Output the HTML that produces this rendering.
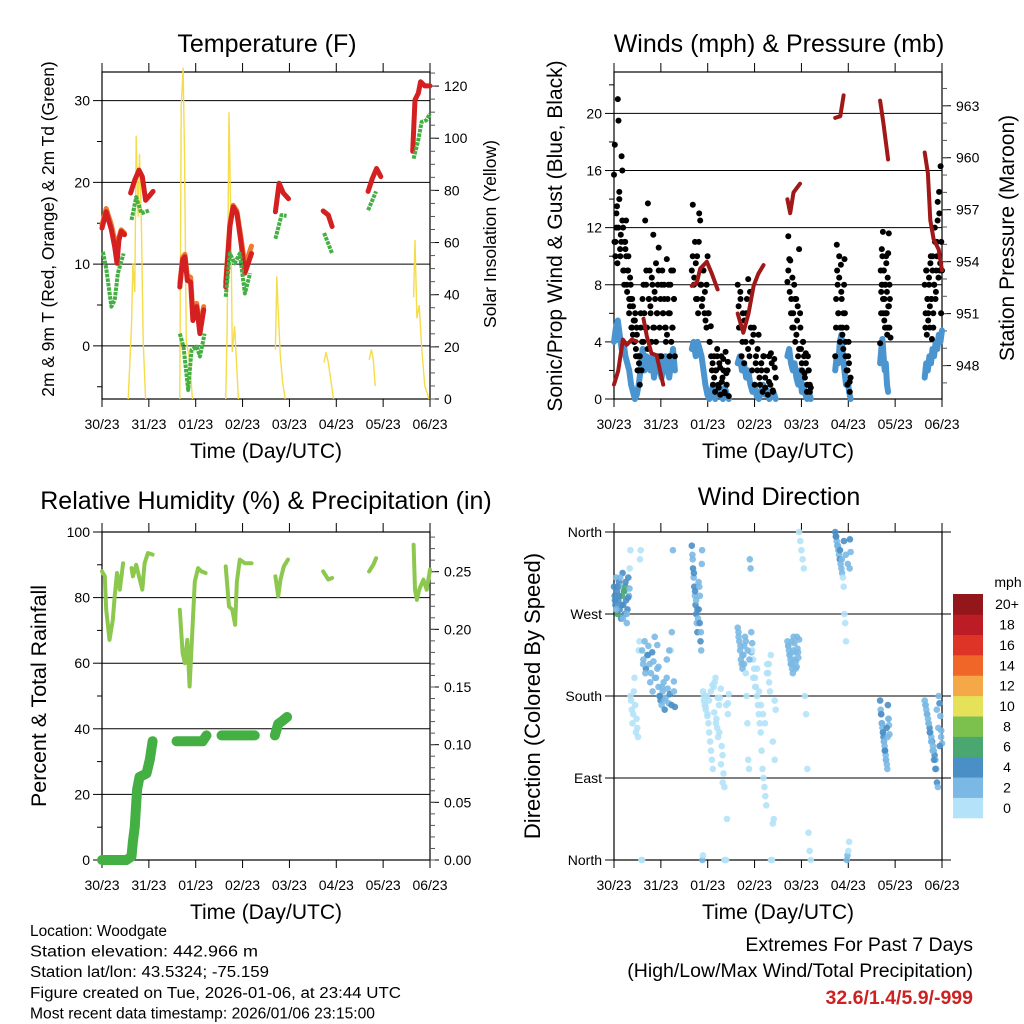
<!DOCTYPE html>
<html><head><meta charset="utf-8"><style>
html,body{margin:0;padding:0;background:#fff;}
svg{display:block;font-family:"Liberation Sans",sans-serif;}
</style></head><body>
<svg id="fig" width="1024" height="1024" viewBox="0 0 1024 1024"></svg>
<script>
// ---------- DATA ----------
const dayLabels = ["30/23","31/23","01/23","02/23","03/23","04/23","05/23","06/23"];
// Temperature panel
const tempRedSegs = [
 [[0,14.4],[0.09,16.4],[0.2,14.2],[0.27,12.1],[0.32,10.1],[0.36,12.9],[0.41,14],[0.48,13.6]],
 [[0.61,18.7],[0.70,20.3],[0.79,21.5],[0.86,20.7],[0.93,17.8],[1.02,18.4],[1.09,18.9]],
 [[1.66,7.2],[1.72,10.5],[1.77,10.9],[1.82,8],[1.89,7.8],[1.94,3.1],[2.02,4.8],[2.09,1.5],[2.17,4.4]],
 [[2.64,7.2],[2.73,14.6],[2.80,17],[2.88,16.2],[2.96,12.9],[3.05,8.9],[3.12,10.1],[3.19,11.3]],
 [[3.70,16.4],[3.78,19.9],[3.87,18.7],[3.98,18]],
 [[4.72,16.5],[4.83,16],[4.91,14.6]],
 [[5.68,18.9],[5.77,20.5],[5.86,21.7],[5.95,20.7]],
 [[6.63,23.8],[6.68,30.1],[6.75,30.9],[6.80,32.3],[6.89,31.8],[7.0,31.8]]
];
const tempOrangeSegs = [
 [[0,14.8],[0.09,16.8],[0.2,14.8],[0.27,12.9],[0.32,10.6],[0.36,13.3],[0.41,14.2],[0.48,13.8]],
 [[1.66,7.6],[1.72,10.8],[1.77,11.2],[1.82,8.6],[1.89,8.4],[1.94,4.0],[2.02,5.2],[2.09,2.2],[2.17,4.8]],
 [[2.64,7.8],[2.73,15],[2.80,17.2],[2.88,16.5],[2.96,13.5],[3.05,9.8],[3.12,11.0],[3.19,12.2]]
];
const dewSegs = [
 [[0.02,11.5],[0.09,9.5],[0.2,4.8],[0.27,5.6],[0.34,8.9],[0.46,11.3]],
 [[0.63,15.4],[0.73,18.2],[0.84,16.2],[1.02,16.6]],
 [[1.66,1.5],[1.74,-0.1],[1.84,-5.4],[1.91,-0.5],[2.02,-0.1],[2.09,-1.3],[2.19,1.5]],
 [[2.64,6],[2.73,11.3],[2.83,10.1],[2.94,11.3],[3.05,6.4],[3.16,8.9]],
 [[3.70,13.1],[3.83,16],[3.94,15.9]],
 [[4.74,13.8],[4.83,12.5],[4.91,11.3]],
 [[5.68,16.6],[5.85,18.9]],
 [[6.65,22.9],[6.75,25.2],[6.82,27.4],[6.92,27.6],[7.0,28.4]]
];
const solarSegs = [
 [[0.56,0],[0.63,28],[0.66,52],[0.70,41],[0.73,101],[0.77,70],[0.80,94],[0.84,67],[0.88,22],[0.93,0]],
 [[1.66,0],[1.69,112],[1.73,127],[1.76,94],[1.80,22],[1.87,15],[1.93,0]],
 [[2.64,0],[2.67,26],[2.71,110],[2.75,67],[2.78,18],[2.83,28],[2.91,0]],
 [[3.70,19],[3.73,47],[3.76,34],[3.80,18],[3.85,7],[3.91,0]],
 [[4.74,14],[4.78,18],[4.83,14],[4.94,0]],
 [[5.70,15],[5.75,19],[5.79,15],[5.83,5]],
 [[6.65,39],[6.68,61],[6.72,31],[6.77,36],[6.82,20],[6.89,5],[6.98,0]]
];
// Winds panel
const pressSegs = [
 [[0,946.9],[0.09,947.7],[0.19,949.5],[0.27,949.2],[0.38,949.5],[0.48,949.4]],
 [[0.63,950.7],[0.70,949.7],[0.80,948.7],[0.91,948.6],[1.05,946.9]],
 [[1.66,952.6],[1.77,952.8],[1.84,953.6],[1.98,954.0],[2.09,953.3],[2.21,952.4]],
 [[2.64,951.0],[2.76,949.9],[2.87,951.0],[2.98,952.6],[3.08,953.3],[3.19,953.8]],
 [[3.70,957.6],[3.76,956.8],[3.83,958],[3.97,958.5]],
 [[4.72,962.3],[4.83,962.4],[4.90,963.6]],
 [[5.68,963.3],[5.75,962],[5.85,959.9]],
 [[6.63,960.3],[6.70,959.1],[6.75,956.4],[6.82,955.3],[6.93,954.7],[7.0,953.5]]
];
const gustStart = [0, 0.55, 1.66, 2.64, 3.70, 4.72, 5.68, 6.63, 0.01, 0.57, 1.68, 2.66, 3.72, 4.74, 5.70, 6.65];
const gustEnd   = [0.55, 1.3, 2.45, 3.45, 4.20, 5.05, 5.90, 7.0, 0.53, 1.28, 2.43, 3.43, 4.18, 5.03, 5.88, 6.98];
const gustVals = [
 [15.7,17.8,11,12,13.5,21,19.5,14,10.5,11.5,17,16,12,9,11,10.5,12.5,8,9,10,7,6.5,8,5,7,4.5,5.5,4,6,3,5,2,3,2.5,1],
 [3,5,2,7,4,6,12.5,8,5,13.7,7,9,6,4,8,11.5,5,7,9.5,6,8,10.6,5,7,3,9,6,8,5,4,9.8,7,6,3,8,4,5,9,7,3],
 [9,13.6,8,11,7,10,6,13,12.5,8,7,9,6,5.5,8,10,6,4,5.1,2,1,3,0.5,2,3.5,1,2.5,0.3,3,1.5,2,0.5,3.3,1,2,0.2],
 [8,5,7.5,3,6,2.5,4,7,8.4,3,5,2,4.5,1,3,2,4.5,1,2.5,0.5,3,1.5,2,0.3,3,1,2.5,0.5,2.8,1.5],
 [8.2,11.4,9.8,9.7,7,5,6,8,4,7,5.5,3,10.5,6,3.5,2,4,3,1.5,2.5,0.5,3,2,1,0.8],
 [3,5,10.8,8,6,10,4,9.4,7,5,3.5,8,6,4,2,1,3,2.5,0.5,1.5],
 [3.9,9,7.5,10.5,8,11.7,6,9,7,5,8,10,6,4.5,8.5,6.5,11.6,5,7,4.3],
 [8,5,9,4.5,7,6,8.5,5,9.5,7,4.2,10,6,8,12,7,9,11,13.8,10,14.5,9,16.3,11,9],
 [11,10,13,9.5,12,14.5,10,11,12.5,9,8,11,10,7.5,9,6,8.5,7,5,6.5,4,5.5,3.5,4.5,3,2],
 [6,4,8,5,9,3.5,7,6.5,8.5,5,7.5,4,6,9,3,8,6,7,5,4.5,8,6,9,5,7],
 [10,8.5,9.5,7,11,8,6.5,9,7.5,5,6,4,3,2.5,1.5,2,3,0.8,2.2,1.2,2.8,0.4,1.8,2.6],
 [6.5,7,4,5.5,6,3.5,7.5,4,5,2.5,3.5,1.5,2,3,0.8,2,1.2,3.2,0.6,2.2],
 [9,7.5,6,8.5,5,7,4.5,6.5,3.5,5,2.5,4,1.8,3.2,1,2,0.5],
 [7,9,6,8.5,5,7.5,4.5,6,9.8,3,5,2,4,1.2],
 [6,8,10,7,9,5.5,8,6,9.5,7.5,5,10.2,6.5,8],
 [6,9,7,5.5,8,6.5,10,7,9,5,8,11,7.5,10,12.5,8.5,13,9.5,6]
];
const windStart = [0, 1.66, 2.64, 3.70, 4.72, 5.68, 6.63];
const windEnd   = [1.3, 2.45, 3.45, 4.20, 5.05, 5.85, 7.0];
const windVals = [
 [4,5,5.5,4.5,3.5,4,3,2.5,2,1,0.5,0,0.3,1,2,3.5,2,3,2.5,2,3,1.5,2.5,3,2,1.5,2.5,3,2,1.5,2.5,3.5,2],
 [3.5,4,3,4,3.5,3,2,1,0.3,0,0.5,1,0,0.5,1,0.2,0,0.8,0.3,0],
 [2.5,3,2,2.5,1.5,2,1,0.5,1,0.2,0,0.5,1,0.3,0.6,0,0.2,0.5,0],
 [3,3.5,2.5,2,2.5,1.5,1,2,0.5,1,0.3,0,0.5,0],
 [2,3,2.5,4,4.5,3,2,1,1.5,0.5,0],
 [2.5,3.5,4.2,3,2,2.5,1,0.5],
 [1.5,2.5,2,3,2.5,3.5,3,4,3.5,4.5,4,4.8]
];
// RH / rain panel
const rhSegs = [
 [[0,88],[0.06,86.5],[0.09,76.3],[0.16,67.1],[0.23,73.2],[0.27,80.4],[0.32,87.5],[0.38,82.4],[0.45,90.5]],
 [[0.63,89],[0.66,86.5],[0.73,90],[0.79,86.5],[0.86,82.4],[0.91,90.5],[0.98,93.6],[1.08,93.1]],
 [[1.66,76.3],[1.72,63.1],[1.77,60],[1.82,67.1],[1.87,52.9],[1.93,70.2],[1.98,84.9],[2.05,89],[2.12,88],[2.21,87.5]],
 [[2.64,89.5],[2.71,77.3],[2.78,76.3],[2.84,71.7],[2.88,84.9],[2.94,91.6],[3.05,90.5],[3.19,90.5]],
 [[3.70,86.5],[3.76,80.4],[3.81,85.5],[3.88,89.5],[3.97,91.6]],
 [[4.72,88],[4.83,85.5],[4.91,86]],
 [[5.70,88],[5.79,90],[5.85,92]],
 [[6.65,96.1],[6.68,82.4],[6.72,79.3],[6.77,82.4],[6.86,85.5],[6.93,82.4],[7.0,88.5]]
];
const rainSegs = [
 [[0,0],[0.52,0],[0.63,0.003],[0.66,0.016],[0.70,0.029],[0.73,0.049],[0.75,0.061],[0.80,0.072],[0.95,0.075],[1.02,0.087],[1.08,0.103]],
 [[1.59,0.103],[2.15,0.103],[2.23,0.108]],
 [[2.55,0.108],[3.26,0.108]],
 [[3.69,0.108],[3.76,0.118],[3.86,0.121],[3.95,0.124]]
];
// Wind direction panel (degrees, speed in mph)
const dirStart = [0, 0.35, 0.6, 0.95, 1.66, 1.9, 2.64, 2.95, 3.70, 3.95, 4.72, 5.68, 6.63,
                  0.02, 0.62, 1.68, 1.92, 2.66, 2.97, 3.72, 4.74, 5.70, 6.65];
const dirEnd   = [0.35, 0.6, 0.95, 1.3, 1.9, 2.45, 2.95, 3.45, 3.95, 4.2, 5.05, 5.88, 7.0,
                  0.33, 1.28, 1.88, 2.43, 2.93, 3.43, 3.93, 5.03, 5.86, 6.98];
const dirDeg = [
 [300,290,280,310,295,270,285,305,275,300,265,290,315,280,295,270,300,285,260,275,310,290,320,340],
 [180,175,165,150,160,185,200,170,140,155,145,135,230,240,330,340,0,0],
 [230,220,240,210,225,235,215,205,228,218,245,200,236,212],
 [190,180,175,170,185,195,165,178,200,188,172,182,230,250,340,196,168],
 [345,335,320,310,300,290,280,270,260,250,265,275,300,290,240,230,325,0,5],
 [185,175,170,165,180,160,150,140,130,120,110,100,190,195,200,155,145,135,170,178,188,125,115,95,0,0,0,45,172,182],
 [255,250,240,230,220,215,210,225,235,245,205,180,150,110,100,330,320,228,238],
 [230,220,210,200,190,180,170,160,150,140,120,100,90,80,70,60,215,205,195,185,0,0,40,45,175,165],
 [240,235,230,225,220,215,210,205,245,238,228,218,212,232,222,242],
 [360,350,340,330,320,180,160,100,30,10,0],
 [360,355,350,345,340,335,330,325,320,315,310,300,270,260,240,0,5,10,20,352,338],
 [175,165,160,150,145,140,135,130,125,120,115,110,105,100,170,155,148,138],
 [175,170,165,160,155,150,145,140,135,130,125,120,115,110,100,85,80,180,172,158,142,128],
 [285,275,300,290,310,280,265,295,305,270,288,298],
 [215,205,225,195,185,200,210,180,190,175,220,230,170,185],
 [330,315,295,285,275,305,260,250,340],
 [180,168,158,175,185,192,162,150,178,140,105,85,80,170,160],
 [245,235,225,215,240,230,220,250],
 [200,190,210,185,170,160,150,205,215,225,130,110],
 [235,225,215,240,230,220,210,245,228],
 [355,345,340,330,350,335,325,320],
 [160,150,140,130,120,110,145,135,155],
 [170,160,150,140,130,120,110,100,165,145,125,135]
];
const dirSpd = [
 [4,4,4,3,4,6,4,4,4,3,4,6,4,4,3,4,7,4,3,4,4,3,1,1],
 [0,1,0,0,1,0,0,1,0,0,1,0,1,0,0,0,0,0],
 [2,3,2,4,2,3,2,2,4,3,2,2,3,2],
 [3,2,4,3,2,3,4,2,3,3,2,4,1,2,2,3,4],
 [4,3,4,3,4,3,4,4,3,4,3,4,3,3,4,3,3,2,1],
 [0,0,0,1,0,0,0,0,1,0,0,0,0,0,0,1,0,0,0,0,1,0,0,0,0,0,0,0,0,0],
 [2,2,3,2,2,2,3,2,2,2,1,1,0,0,0,2,2,2,2],
 [0,1,0,0,0,1,0,0,0,0,0,0,0,0,0,0,1,0,0,0,0,0,0,0,0,0],
 [2,2,2,2,2,2,2,2,2,2,2,2,3,2,2,2],
 [0,0,0,0,0,0,0,0,0,0,0],
 [4,4,3,4,3,2,4,2,3,2,1,1,1,1,0,2,3,1,0,4,2],
 [4,3,2,4,3,2,4,3,2,4,3,2,3,2,4,3,2,3],
 [2,2,3,4,2,3,4,2,3,4,3,2,4,3,2,4,2,2,4,3,2,3],
 [4,3,4,4,3,4,3,6,4,3,4,3],
 [3,2,4,3,3,2,3,4,2,3,2,3,4,2],
 [3,4,4,3,4,3,4,3,3],
 [0,0,1,0,0,0,0,1,0,0,0,0,0,0,0],
 [3,2,2,3,2,2,3,2],
 [0,0,1,0,0,0,0,0,1,0,0,0],
 [2,2,2,3,2,2,2,2,2],
 [4,3,4,3,4,2,3,2],
 [4,3,4,3,4,3,4,3,2],
 [2,3,2,4,3,2,4,4,2,3,4,3]
];
const cbLabels = ["0","2","4","6","8","10","12","14","16","18","20+"];
const cbColors = ["#b4e2f8","#7bb9e4","#4a8fc6","#4aa76f","#7cc14d","#e5e25a","#f5a848","#f06629","#de3428","#bb1c25","#92161a"];

// ---------- HELPERS ----------
const NS = "http://www.w3.org/2000/svg";
const svg = document.getElementById("fig");
function mk(tag, attrs, parent) {
  const e = document.createElementNS(NS, tag);
  for (const k in attrs) e.setAttribute(k, attrs[k]);
  (parent || svg).appendChild(e);
  return e;
}
function txt(s, x, y, size, anchor, parent, extra) {
  const a = Object.assign({x:x, y:y, "font-size":size, "text-anchor":anchor||"middle", fill:"#000"}, extra||{});
  const t = mk("text", a, parent);
  t.textContent = s;
  return t;
}
function panel(x0, x1, y0, y1) {
  return {x0, x1, y0, y1, X: t => x0 + t / 7 * (x1 - x0)};
}
function yScale(p, lo, hi) { return v => p.y1 - (v - lo) / (hi - lo) * (p.y1 - p.y0); }
function pathOf(seg, X, Y) { return seg.map((d, i) => (i ? "L" : "M") + X(d[0]).toFixed(1) + "," + Y(d[1]).toFixed(1)).join(""); }

function frame(p, name) {
  const g = mk("g", {});
  
  
  mk("rect", {x:p.x0, y:p.y0, width:p.x1-p.x0, height:p.y1-p.y0, fill:"none", stroke:"#000", "stroke-width":1.2}, g);
  for (let d = 0; d <= 7; d++) {
    const x = p.X(d);
    mk("line", {x1:x, x2:x, y1:p.y0-9, y2:p.y0, stroke:"#000"}, g);
    mk("line", {x1:x, x2:x, y1:p.y1, y2:p.y1+8, stroke:"#000"}, g);
    const t = txt(dayLabels[d], x, p.y1 + 30, 14, "middle", g);
    
    
  }
  const xt = txt("Time (Day/UTC)", (p.x0+p.x1)/2, p.y1 + 59, 21, "middle", g);
  
  
  return g;
}
function leftAxis(p, Y, majors, minors, labels, g, grid) {
  majors.forEach((v, i) => {
    const y = Y(v);
    mk("line", {x1:p.x0-9, x2:p.x0, y1:y, y2:y, stroke:"#000"}, g);
    if (grid) mk("line", {x1:p.x0, x2:p.x1, y1:y, y2:y, stroke:"#000", "stroke-width":1}, g);
    const t = txt(labels[i], p.x0 - 12, y + 5, 14, "end", g);
    
    
  });
  minors.forEach(v => { const y = Y(v); mk("line", {x1:p.x0-5, x2:p.x0, y1:y, y2:y, stroke:"#000"}, g); });
}
function rightAxis(p, Y, majors, minors, labels, g) {
  majors.forEach((v, i) => {
    const y = Y(v);
    mk("line", {x1:p.x1, x2:p.x1+9, y1:y, y2:y, stroke:"#000"}, g);
    const t = txt(labels[i], p.x1 + 14, y + 5, 14, "start", g);
    
    
  });
  minors.forEach(v => { const y = Y(v); mk("line", {x1:p.x1, x2:p.x1+5, y1:y, y2:y, stroke:"#555"}, g); });
}
function vtitle(s, x, y, size, g, name) {
  const t = txt(s, x, y, size, "middle", g, {transform:"rotate(-90 " + x + " " + y + ")"});
  
  
}
function range(a, b, s) { const r = []; for (let v = a; v <= b + 1e-9; v += s) r.push(+v.toFixed(4)); return r; }

// ---------- PANEL 1: Temperature ----------
(function(){
  const p = panel(102, 430, 72, 399);
  const Y = yScale(p, -6.5, 33.5);
  const Ys = yScale(p, 0, 125.4);
  const g = frame(p, "temperature");
  leftAxis(p, Y, [0,10,20,30], [-5,5,15,25], ["0","10","20","30"], g, true);
  rightAxis(p, Ys, [0,20,40,60,80,100,120], range(0,125,5), ["0","20","40","60","80","100","120"], g);
  const tt = txt("Temperature (F)", 267, 52, 25, "middle");
  
  
  vtitle("2m & 9m T (Red, Orange) & 2m Td (Green)", 54, 229, 17.4, g, "temperature-y-axis-title");
  vtitle("Solar Insolation (Yellow)", 496, 234, 17.6, g, "solar-y-axis-title");
  solarSegs.forEach(s => {
    const e = mk("path", {d:pathOf(s, p.X, Ys), fill:"none", stroke:"#f5dc4a", "stroke-width":1.4});
    
    
  });
  tempOrangeSegs.forEach(s => {
    const e = mk("path", {d:pathOf(s, p.X, Y), fill:"none", stroke:"#f07a30", "stroke-width":5, "stroke-linejoin":"round", "stroke-linecap":"round"});
    
    
  });
  tempRedSegs.forEach(s => {
    const e = mk("path", {d:pathOf(s, p.X, Y), fill:"none", stroke:"#d42020", "stroke-width":5, "stroke-linejoin":"round", "stroke-linecap":"round"});
    
    
  });
  dewSegs.forEach(s => {
    const e = mk("path", {d:pathOf(s, p.X, Y), fill:"none", stroke:"#44b044", "stroke-width":4, "stroke-dasharray":"3.5 1", "stroke-linejoin":"round"});
    
    
  });
})();

// ---------- PANEL 2: Winds ----------
(function(){
  const p = panel(614, 942, 72, 399);
  const Y = yScale(p, 0, 22.9);
  const Yp = yScale(p, 946.07, 964.95);
  const g = frame(p, "winds");
  leftAxis(p, Y, [0,4,8,12,16,20], [2,6,10,14,18,22], ["0","4","8","12","16","20"], g, true);
  rightAxis(p, Yp, [948,951,954,957,960,963], range(947,964,1), ["948","951","954","957","960","963"], g);
  const tt = txt("Winds (mph) & Pressure (mb)", 779, 52, 25, "middle");
  
  
  vtitle("Sonic/Prop Wind & Gust (Blue, Black)", 562, 236, 21, g, "wind-y-axis-title");
  vtitle("Station Pressure (Maroon)", 1014, 238, 21, g, "pressure-y-axis-title");
  windVals.forEach((vals, c) => {
    const pts = vals.map((v, i) => [windStart[c] + i * (windEnd[c] - windStart[c]) / (vals.length - 1), v]);
    const e = mk("path", {d:pathOf(pts, p.X, Y), fill:"none", stroke:"#4a94d0", "stroke-width":6, "stroke-linejoin":"round", "stroke-linecap":"round"});
    
    
  });
  gustVals.forEach((vals, c) => {
    vals.forEach((v, i) => {
      const t = gustStart[c] + i * (gustEnd[c] - gustStart[c]) / (vals.length - 1);
      const e = mk("circle", {cx:p.X(t).toFixed(1), cy:Y(v).toFixed(1), r:3, fill:"#000"});
      
      
    });
  });
  pressSegs.forEach(s => {
    const e = mk("path", {d:pathOf(s, p.X, Yp), fill:"none", stroke:"#a01818", "stroke-width":4, "stroke-linejoin":"round", "stroke-linecap":"round"});
    
    
  });
})();

// ---------- PANEL 3: RH & Precip ----------
(function(){
  const p = panel(102, 430, 532, 860);
  const Y = yScale(p, 0, 100);
  const Yr = yScale(p, 0, 0.2844);
  const g = frame(p, "humidity");
  leftAxis(p, Y, [0,20,40,60,80,100], [10,30,50,70,90], ["0","20","40","60","80","100"], g, true);
  rightAxis(p, Yr, [0,0.05,0.1,0.15,0.2,0.25], range(0,0.28,0.01), ["0.00","0.05","0.10","0.15","0.20","0.25"], g);
  const tt = txt("Relative Humidity (%) & Precipitation (in)", 266, 509, 25, "middle");
  
  
  vtitle("Percent & Total Rainfall", 46, 696, 21.4, g, "humidity-y-axis-title");
  rhSegs.forEach(s => {
    const e = mk("path", {d:pathOf(s, p.X, Y), fill:"none", stroke:"#8cc84e", "stroke-width":4, "stroke-linejoin":"round", "stroke-linecap":"round"});
    
    
  });
  rainSegs.forEach(s => {
    const e = mk("path", {d:pathOf(s, p.X, Yr), fill:"none", stroke:"#44b044", "stroke-width":10, "stroke-linejoin":"round", "stroke-linecap":"round"});
    
    
  });
})();

// ---------- PANEL 4: Wind direction ----------
(function(){
  const p = panel(614, 942, 532, 860);
  const Y = yScale(p, 0, 360);
  const g = frame(p, "direction");
  leftAxis(p, Y, [0,90,180,270,360], [], ["North","East","South","West","North"], g, true);
  [0,90,180,270,360].forEach(v => mk("line", {x1:p.x1, x2:p.x1+9, y1:Y(v), y2:Y(v), stroke:"#000"}, g));
  const tt = txt("Wind Direction", 779, 505, 25, "middle");
  
  
  vtitle("Direction (Colored By Speed)", 540, 696, 22, g, "direction-y-axis-title");
  function col(s) { let b = Math.min(10, Math.floor(s / 2)); return cbColors[b]; }
  dirDeg.forEach((vals, c) => {
    vals.forEach((v, i) => {
      const t = dirStart[c] + i * (dirEnd[c] - dirStart[c]) / (vals.length - 1);
      const e = mk("circle", {cx:p.X(t).toFixed(1), cy:Y(v).toFixed(1), r:3.3, fill:col(dirSpd[c][i]), "fill-opacity":0.9});
      
      
    });
  });
  const cb = mk("g", {});
  
  
  const top = 594, bot = 818, h = (bot - top) / cbColors.length;
  cbColors.forEach((c, i) => {
    const y = bot - (i + 1) * h;
    mk("rect", {x:953, y:y, width:30, height:h + 0.3, fill:c}, cb);
    const t = txt(cbLabels[i], 1007, y + h/2 + 5, 14, "middle", cb);
    
    
  });
  const u = txt("mph", 1008, 587, 14, "middle", cb);
  
  
})();

// ---------- Footer ----------
const footLeft = ["Location: Woodgate","Station elevation: 442.966 m","Station lat/lon: 43.5324; -75.159","Figure created on Tue, 2026-01-06, at 23:44 UTC","Most recent data timestamp: 2026/01/06 23:15:00"];
const footWidths = [137, 228, 239, 371, 345];
footLeft.forEach((s, i) => {
  const t = txt(s, 30, 936 + i * 20.6, 15.5, "start", null, {textLength: footWidths[i], lengthAdjust:"spacingAndGlyphs"});
  
  
});
const e1 = txt("Extremes For Past 7 Days", 973, 951, 19.5, "end");


const e2 = txt("(High/Low/Max Wind/Total Precipitation)", 973, 977, 19.5, "end");


const e3 = txt("32.6/1.4/5.9/-999", 973, 1004, 19.5, "end", null, {fill:"#cc2222", "font-weight":"bold"});


</script>
</body></html>
